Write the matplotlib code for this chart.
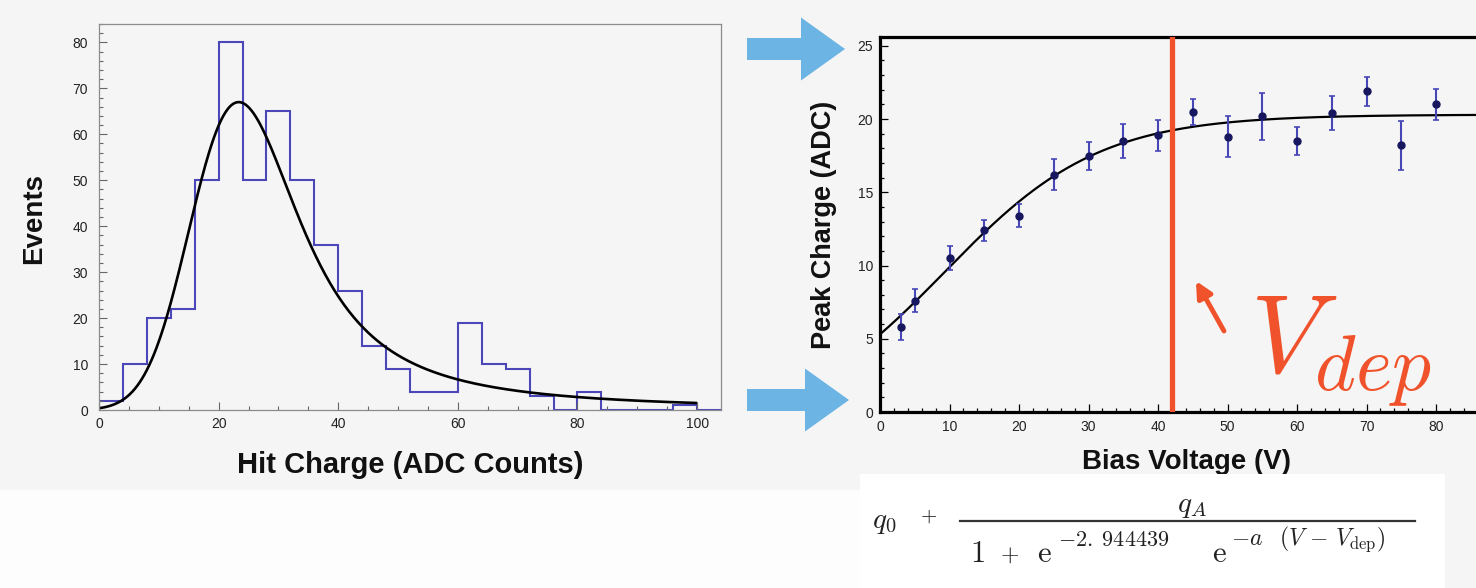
import numpy as np
import matplotlib
matplotlib.use("Agg")
import matplotlib.pyplot as plt
from matplotlib.patches import FancyArrow, Rectangle
from matplotlib.ticker import MultipleLocator, FuncFormatter

W, H = 1476, 588

# hit charge spectrum, 4 ADC bins
charge_edges = np.arange(0, 105, 4)
charge_counts = [2, 10, 20, 22, 50, 80, 50, 65, 50, 36, 26, 14, 9,
                 4, 4, 19, 10, 9, 3, 0, 4, 0, 0, 0, 1, 0]

# landau (x) gauss fit
landau_mpv = 22.0
landau_width = 3.9
gauss_sigma = 5.6
fit_peak = 67.0

# depletion scan
bias_voltage = [3, 5, 10, 15, 20, 25, 30, 35, 40, 45, 50, 55, 60, 65, 70, 75, 80]
peak_charge = [5.8, 7.6, 10.5, 12.4, 13.4, 16.2, 17.5, 18.5, 18.9, 20.5,
               18.8, 20.2, 18.5, 20.4, 21.9, 18.2, 21.0]
peak_charge_err = [0.9, 0.8, 0.8, 0.7, 0.8, 1.05, 0.95, 1.15, 1.05, 0.9,
                   1.4, 1.6, 0.95, 1.15, 1.0, 1.65, 1.05]

# sigmoid fit: q0 + qA / (1 + e^-2.944439 e^(-a (V - Vdep)))
q0, qA, a_slope, v_dep = -1.2, 21.5, 0.09, 42.0

RED = "#f0532b"
HIST = "#4b47b8"
INK = "#222222"


def landau(lam):
    """Landau density, p(l) = 1/pi int exp(-t ln t - l t) sin(pi t) dt (Simpson)."""
    lam = np.asarray(lam, dtype=float)
    out = np.zeros_like(lam)
    t = np.linspace(1e-12, 60, 12001)
    dt = t[1] - t[0]
    w = np.ones_like(t)
    w[1:-1:2] = 4
    w[2:-1:2] = 2
    w *= dt / 3
    base = -t * np.log(t)
    s = np.sin(np.pi * t) * w
    idx = np.where(lam > -3.0)[0]
    for chunk in np.array_split(idx, max(1, len(idx) // 100)):
        e = np.exp(base[None, :] - np.outer(lam[chunk], t))
        out[chunk] = (e * s[None, :]).sum(axis=1) / np.pi
    return out


def langaus(x_grid, mpv, width, sigma):
    dx = x_grid[1] - x_grid[0]
    land = landau((x_grid - mpv) / width)
    kx = np.arange(-5 * sigma, 5 * sigma + dx / 2, dx)
    kern = np.exp(-0.5 * (kx / sigma) ** 2)
    kern /= kern.sum()
    return np.convolve(land, kern, mode="same")


def sigmoid(v):
    v = np.asarray(v, dtype=float)
    return q0 + qA / (1 + np.exp(-2.944439) * np.exp(-a_slope * (v - v_dep)))


plt.rcParams["mathtext.fontset"] = "cm"
plt.rcParams["font.family"] = ["Liberation Sans", "DejaVu Sans"]

fig = plt.figure(figsize=(W / 100, H / 100), dpi=100)
fig.patch.set_facecolor("#f5f5f5")
fig.patches.append(Rectangle((0, 0), 860 / W, 98 / H, transform=fig.transFigure,
                             facecolor="#fdfdfd", edgecolor="none", zorder=-1))


def fx(x):
    return x / W


def fy(y):
    return 1 - y / H


# ---- left: hit charge histogram
ax1 = fig.add_axes([fx(99), fy(410), 622 / W, 386 / H])
ax1.patch.set_alpha(0)
ax1.stairs(charge_counts, charge_edges, color=HIST, lw=1.5)
xg = np.arange(-60, 160.01, 0.2)
yg = langaus(xg, landau_mpv, landau_width, gauss_sigma)
sel = (xg >= 0) & (xg <= 100)
yg = yg / yg[sel].max() * fit_peak
ax1.plot(xg[sel], yg[sel], color="black", lw=1.9)
ax1.set_xlim(0, 104)
ax1.set_ylim(0, 84)
for sp in ax1.spines.values():
    sp.set_color("#8c8c8c")
    sp.set_linewidth(0.9)
ax1.xaxis.set_major_locator(MultipleLocator(20))
ax1.xaxis.set_minor_locator(MultipleLocator(5))
ax1.yaxis.set_major_locator(MultipleLocator(10))
ax1.yaxis.set_minor_locator(MultipleLocator(2))
ax1.tick_params(which="both", direction="in", color="#666666", width=0.8,
                top=False, right=False, labelsize=10, labelcolor=INK)
ax1.tick_params(which="major", length=5.5)
ax1.tick_params(which="minor", length=3)
ax1.tick_params(axis="y", pad=8)
ax1.tick_params(axis="x", pad=5)

fig.text(fx(34), fy(218), "Events", rotation=90, ha="center", va="center",
         fontsize=20, fontweight="bold", color="#111111")
fig.text(fx(410), fy(465), "Hit Charge (ADC Counts)", ha="center", va="center",
         fontsize=21, fontweight="bold", color="#111111")

# ---- right: peak charge vs bias voltage
ax2 = fig.add_axes([fx(880), fy(412), 695 / W, 375 / H])
ax2.patch.set_alpha(0)
vv = np.linspace(0, 100, 400)
ax2.plot(vv, sigmoid(vv), color="black", lw=1.6, zorder=2)
ax2.errorbar(bias_voltage, peak_charge, yerr=peak_charge_err, fmt="o", ms=5,
             mfc="#17175f", mec="#17175f", ecolor="#4646b6", elinewidth=1.5,
             capsize=2.5, capthick=1.2, zorder=3)
ax2.axvline(v_dep, color=RED, lw=3.8, zorder=4)
ax2.set_xlim(0, 100)
ax2.set_ylim(0, 25.6)
for sp in ax2.spines.values():
    sp.set_color("black")
    sp.set_linewidth(2.3)
ax2.xaxis.set_major_locator(MultipleLocator(10))
ax2.xaxis.set_minor_locator(MultipleLocator(2))
# labels past 80 V fall outside the canvas
ax2.xaxis.set_major_formatter(FuncFormatter(lambda v, _: f"{v:g}" if v <= 85 else ""))
ax2.yaxis.set_major_locator(MultipleLocator(5))
ax2.yaxis.set_minor_locator(MultipleLocator(1))
ax2.tick_params(which="both", direction="in", color="black", width=0.9,
                top=False, right=False, labelsize=10, labelcolor=INK)
ax2.tick_params(which="major", length=6)
ax2.tick_params(which="minor", length=3)
ax2.tick_params(axis="y", pad=5)
ax2.tick_params(axis="x", pad=6)

fig.text(fx(824), fy(225), "Peak Charge (ADC)", rotation=90, ha="center",
         va="center", fontsize=19.5, fontweight="bold", color="#111111")
fig.text(fx(1186), fy(462), "Bias Voltage (V)", ha="center", va="center",
         fontsize=20, fontweight="bold", color="#111111")

# ---- overlay in pixel coordinates: arrows, labels, formula
ov = fig.add_axes([0, 0, 1, 1], zorder=5)
ov.set_xlim(0, W)
ov.set_ylim(H, 0)
ov.axis("off")
ov.patch.set_alpha(0)

for y_mid, tip in ((49, 845), (400, 849)):
    ov.add_patch(FancyArrow(747, y_mid, tip - 747, 0, width=22, head_width=63,
                            head_length=44, length_includes_head=True,
                            color="#6cb4e4", lw=0))

ov.annotate("", xy=(1196, 281), xytext=(1224, 331),
            arrowprops=dict(arrowstyle="-|>", color=RED, lw=3.5,
                            mutation_scale=24, shrinkA=0, shrinkB=0))
ov.text(1250, 373, r"$V_{dep}$", fontsize=80, color=RED, ha="left",
        va="baseline")

# fit function box
ov.add_patch(Rectangle((860, 474), 585, 130, facecolor="white",
                       edgecolor="none"))
ov.text(872, 528, r"$q_0$", fontsize=21, ha="left", va="baseline", color=INK)
ov.text(920, 522, r"$+$", fontsize=15, ha="left", va="baseline", color=INK)
ov.plot([960, 1415], [521, 521], color="#333333", lw=1.6)
ov.text(1192, 512, r"$q_A$", fontsize=21, ha="center", va="baseline", color=INK)
ov.text(970, 562, r"$1$", fontsize=22, ha="left", va="baseline", color=INK)
ov.text(1000, 562, r"$+$", fontsize=17, ha="left", va="baseline", color=INK)
ov.text(1037, 562, r"$\mathrm{e}$", fontsize=22, ha="left", va="baseline", color=INK)
ov.text(1058, 546, r"$-2.\;944439$", fontsize=16, ha="left", va="baseline",
        color=INK)
ov.text(1212, 562, r"$\mathrm{e}$", fontsize=22, ha="left", va="baseline", color=INK)
ov.text(1231, 545, r"$-a\;\;\;(V\,-\,V_{\mathrm{dep}})$", fontsize=17, ha="left",
        va="baseline", color=INK)

fig.savefig("out.png", dpi=100, facecolor=fig.get_facecolor())
